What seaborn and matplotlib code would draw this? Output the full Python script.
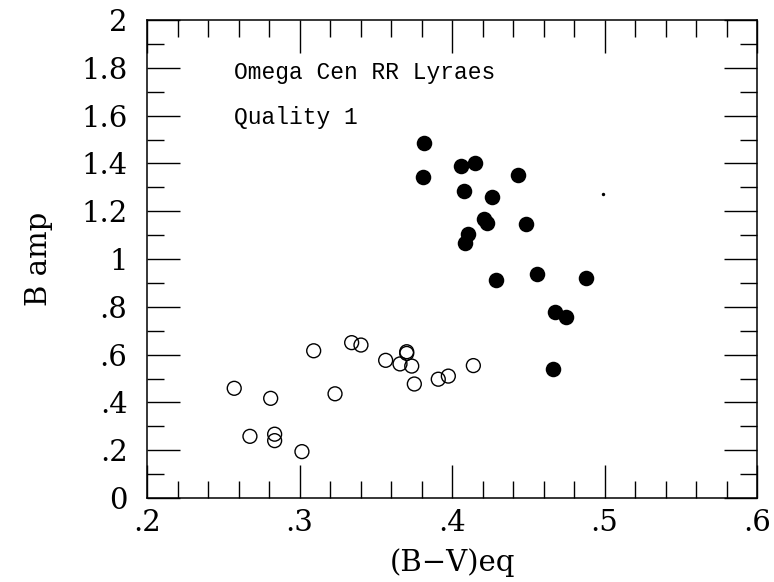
import numpy as np
import pandas as pd
import matplotlib
matplotlib.use("Agg")
import matplotlib.pyplot as plt
from matplotlib.ticker import MultipleLocator, FuncFormatter
import seaborn as sns

# RRab stars (filled circles)
ab_bv = [0.3816, 0.3812, 0.4059, 0.4151, 0.4431, 0.4080, 0.4262, 0.4212, 0.4228,
         0.4485, 0.4107, 0.4085, 0.4289, 0.4555, 0.4879, 0.4675, 0.4748, 0.4664]
ab_amp = [1.485, 1.342, 1.389, 1.403, 1.351, 1.285, 1.258, 1.167, 1.149,
          1.148, 1.103, 1.068, 0.912, 0.937, 0.922, 0.778, 0.756, 0.538]

# RRc stars (open circles)
c_bv = [0.2572, 0.2811, 0.3093, 0.3342, 0.3403, 0.3565, 0.3233, 0.3703, 0.3703,
        0.3659, 0.3736, 0.3753, 0.3910, 0.3976, 0.2675, 0.2837, 0.2837, 0.3016, 0.4140]
c_amp = [0.459, 0.417, 0.616, 0.650, 0.640, 0.576, 0.436, 0.605, 0.612,
         0.561, 0.552, 0.477, 0.497, 0.510, 0.258, 0.267, 0.240, 0.194, 0.554]

# single faint star
dot_bv = [0.499]
dot_amp = [1.272]

title_lines = ["Omega Cen RR Lyraes", "Quality 1"]

sns.set_theme(style="white")
plt.rcParams["font.family"] = ["DejaVu Serif"]

fig = plt.figure(figsize=(7.74, 5.82), dpi=100)
ax = fig.add_axes([147 / 774, 1 - 498 / 582, 610 / 774, 478 / 582])

ab = pd.DataFrame({"bv": ab_bv, "amp": ab_amp})
cc = pd.DataFrame({"bv": c_bv, "amp": c_amp})
dd = pd.DataFrame({"bv": dot_bv, "amp": dot_amp})

sns.scatterplot(data=ab, x="bv", y="amp", ax=ax, s=125, color="black",
                edgecolor="black", linewidth=0, zorder=3)
sns.scatterplot(data=cc, x="bv", y="amp", ax=ax, s=100, facecolor="none",
                edgecolor="black", linewidth=1.0, zorder=3)
sns.scatterplot(data=dd, x="bv", y="amp", ax=ax, s=6, color="black",
                linewidth=0, zorder=3)

ax.set_xlim(0.2, 0.6)
ax.set_ylim(0, 2)


def strip_zero(v, pos):
    s = f"{v:.1f}".rstrip("0").rstrip(".")
    if s.startswith("0."):
        s = s[1:]
    return s if s else "0"


ax.xaxis.set_major_locator(MultipleLocator(0.1))
ax.xaxis.set_minor_locator(MultipleLocator(0.02))
ax.yaxis.set_major_locator(MultipleLocator(0.2))
ax.yaxis.set_minor_locator(MultipleLocator(0.1))
ax.xaxis.set_major_formatter(FuncFormatter(strip_zero))
ax.yaxis.set_major_formatter(FuncFormatter(strip_zero))

ax.tick_params(which="both", direction="in", top=True, right=True,
               bottom=True, left=True, color="black", width=1.0,
               labelsize=21, labelcolor="black")
ax.tick_params(which="major", length=24)
ax.tick_params(which="minor", length=12)
ax.tick_params(axis="x", which="major", pad=8)
ax.tick_params(axis="y", which="major", pad=14)

for sp in ax.spines.values():
    sp.set_color("black")
    sp.set_linewidth(1.1)

ax.set_xlabel("(B\u2212V)eq", fontsize=21, color="black", labelpad=8)
ax.set_ylabel("B amp", fontsize=21, color="black", labelpad=20)

ax.text(0.257, 1.753, title_lines[0], family="Liberation Mono", fontsize=16.5,
        color="black", ha="left", va="baseline")
ax.text(0.257, 1.563, title_lines[1], family="Liberation Mono", fontsize=16.5,
        color="black", ha="left", va="baseline")

fig.savefig("out.png", dpi=100)
